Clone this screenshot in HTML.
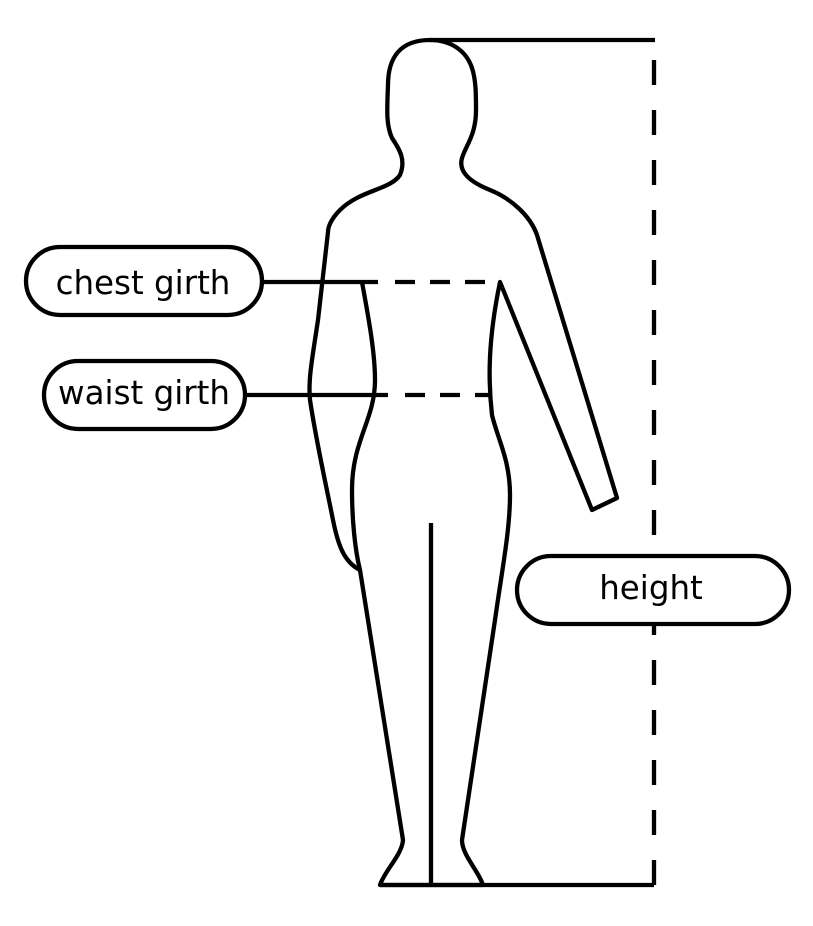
<!DOCTYPE html>
<html><head><style>body{margin:0;background:#fff}svg{display:block}</style></head><body>
<svg width="813" height="926" viewBox="0 0 813 926" xmlns="http://www.w3.org/2000/svg">
<g fill="none" stroke="#000" stroke-width="4.3" stroke-linejoin="round">
<line x1="430" y1="40" x2="655" y2="40"/>
<line x1="654" y1="885" x2="654" y2="40" stroke-dasharray="25 25"/>
<line x1="380" y1="885" x2="654" y2="885"/>
<path d="M430,40 C400,40 388,58 388,85 C387,110 386,125 392,138 C400,150 406,160 400,175 C390,190 360,190 340,210 C330,220 328,228 328,232 L318,320 C312,360 308,380 310,400 C316,440 325,480 333,520 C338,545 344,562 360,570 L403,840 C402,855 385,870 380,885 L483,885 C478,870 462,855 462,840 L495,620 C502,570 510,530 510,495 C510,460 498,440 492,415 C488,380 488,340 500,282 L592,510 L617,498 L537,235 C530,215 510,198 490,190 C470,182 458,172 462,158 C466,145 476,135 476,110 C476,95 476,80 472,68 C466,50 450,40 430,40 Z"/>
<path d="M362,282 C367,310 375,350 375,380 C375,420 352,440 352,490 C352,520 355,550 360,570"/>
<line x1="431" y1="523" x2="431" y2="885"/>
<line x1="262" y1="282" x2="378" y2="282"/>
<line x1="395" y1="282" x2="500" y2="282" stroke-dasharray="20 15"/>
<line x1="245" y1="395" x2="388" y2="395"/>
<line x1="405" y1="395" x2="492" y2="395" stroke-dasharray="20 15"/>
<rect x="26" y="247" width="236" height="68" rx="34" fill="#fff"/>
<rect x="44" y="361" width="201" height="68" rx="34" fill="#fff"/>
<rect x="517" y="556" width="272" height="68" rx="34" fill="#fff"/>
</g>
<g font-family="DejaVu Sans, Liberation Sans, sans-serif" font-size="32.5" text-anchor="middle" fill="#000">
<text x="143" y="294">chest girth</text>
<text x="144" y="404">waist girth</text>
<text x="651" y="599">height</text>
</g>
</svg>
</body></html>
